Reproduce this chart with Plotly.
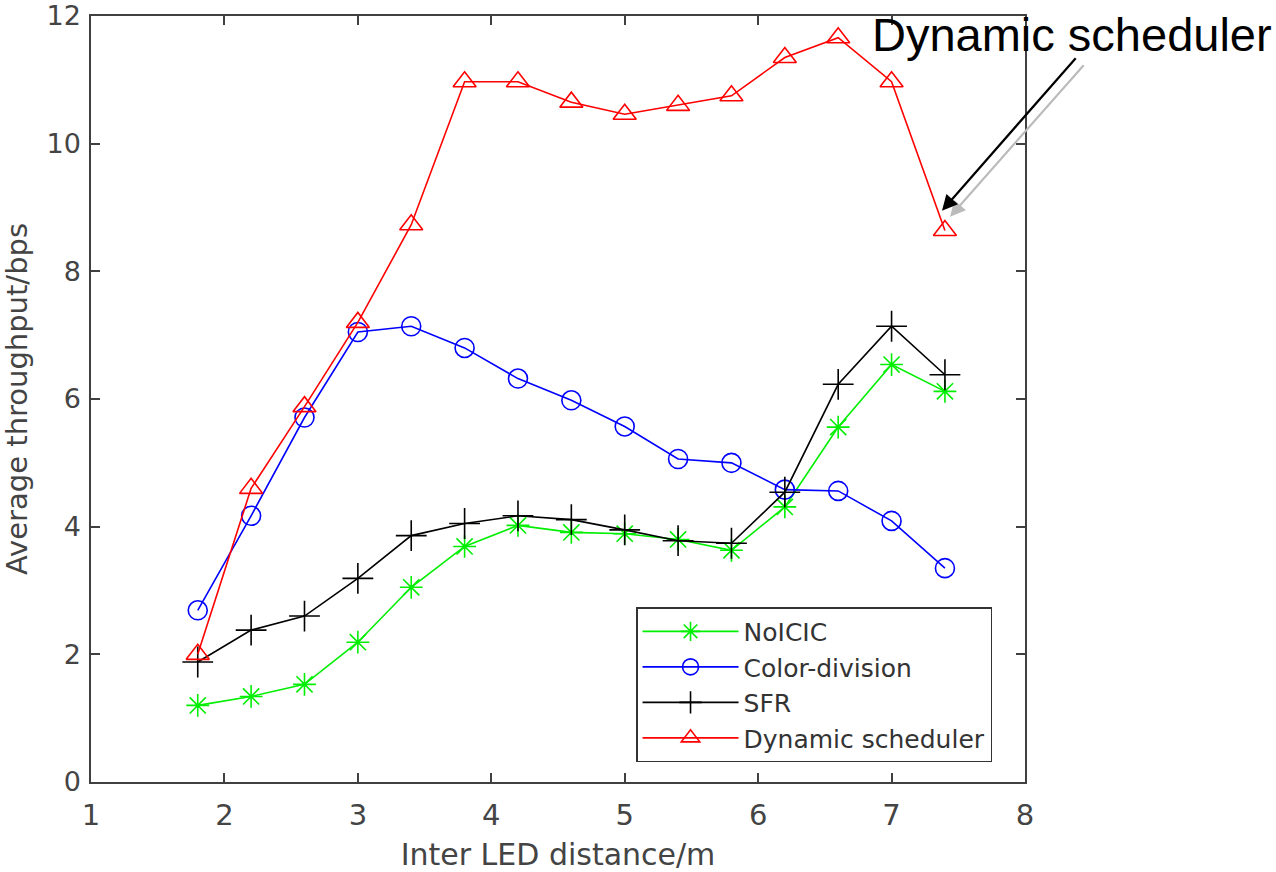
import plotly.graph_objects as go

distance = [1.8, 2.2, 2.6, 3.0, 3.4, 3.8, 4.2, 4.6, 5.0, 5.4, 5.8, 6.2, 6.6, 7.0, 7.4]
noicic = [1.20, 1.34, 1.53, 2.19, 3.05, 3.69, 4.02, 3.91, 3.89, 3.80, 3.63, 4.31, 5.56, 6.54, 6.12]
color_division = [2.69, 4.17, 5.71, 7.05, 7.14, 6.80, 6.32, 5.98, 5.57, 5.06, 5.00, 4.58, 4.56, 4.09, 3.35]
sfr = [1.88, 2.38, 2.60, 3.19, 3.86, 4.05, 4.17, 4.11, 3.95, 3.78, 3.74, 4.54, 6.23, 7.14, 6.38]
dynamic = [2.00, 4.60, 5.88, 7.20, 8.73, 10.97, 10.97, 10.65, 10.46, 10.60, 10.75, 11.35, 11.66, 10.97, 8.64]

x_ticks = [1, 2, 3, 4, 5, 6, 7, 8]
y_ticks = [0, 2, 4, 6, 8, 10, 12]

series = [
    ("NoICIC", noicic, "#00ee00", "asterisk-open", 19),
    ("Color-division", color_division, "#0000ff", "circle-open", 19),
    ("SFR", sfr, "#000000", "cross-thin-open", 22),
    ("Dynamic scheduler", dynamic, "#ff0000", "triangle-up-open", 20),
]

fig = go.Figure()
for name, vals, col, sym, sz in series:
    fig.add_trace(go.Scatter(
        x=distance, y=vals, name=name, mode="lines+markers",
        line=dict(color=col, width=1.6),
        marker=dict(symbol=sym, size=sz, color=col, line=dict(color=col, width=1.6)),
    ))

axis_font = dict(family="DejaVu Sans, sans-serif", size=29, color="#444444")
ytick_font = dict(family="DejaVu Sans, sans-serif", size=27, color="#444444")
title_font = dict(family="DejaVu Sans, sans-serif", size=30, color="#444444")

fig.update_layout(
    width=1276, height=872,
    margin=dict(l=91, r=251, t=16, b=90, autoexpand=False),
    paper_bgcolor="white", plot_bgcolor="white",
    font=axis_font,
    showlegend=True,
    legend=dict(
        x=0.9647, y=0.026, xanchor="right", yanchor="bottom",
        bgcolor="white", bordercolor="#333333", borderwidth=1.5,
        font=dict(family="DejaVu Sans, sans-serif", size=25, color="#333333"),
        itemwidth=96, tracegroupgap=0,
    ),
    xaxis=dict(
        range=[1, 8], tickvals=x_ticks, ticktext=[str(v) for v in x_ticks],
        showgrid=False, zeroline=False, showline=True, linecolor="#404040", linewidth=1.5,
        mirror="ticks", ticks="inside", ticklen=9, tickwidth=1.5, tickcolor="#404040",
        title=dict(text="Inter LED distance/m", standoff=16, font=title_font),
        tickfont=axis_font, automargin=False, ticklabeloverflow="allow",
        ticklabelstandoff=6,
    ),
    yaxis=dict(
        range=[0, 12], tickvals=y_ticks, ticktext=[str(v) for v in y_ticks],
        showgrid=False, zeroline=False, showline=True, linecolor="#404040", linewidth=1.5,
        mirror="ticks", ticks="inside", ticklen=9, tickwidth=1.5, tickcolor="#404040",
        title=dict(text="Average throughput/bps", standoff=10, font=axis_font),
        tickfont=ytick_font, automargin=False, ticklabeloverflow="allow",
        ticklabelstandoff=3,
    ),
)

fig.add_annotation(
    x=7.438, y=8.856, xref="x", yref="y", ax=135, ay=-153, axref="pixel", ayref="pixel",
    text="", showarrow=True, arrowhead=2, arrowsize=1.4, arrowwidth=2.2, arrowcolor="#bbbbbb",
)
fig.add_annotation(
    x=7.378, y=8.95, xref="x", yref="y", ax=135, ay=-154, axref="pixel", ayref="pixel",
    text="", showarrow=True, arrowhead=2, arrowsize=1.4, arrowwidth=2.2, arrowcolor="#000000",
)
fig.add_annotation(
    x=0.834, y=0.9755, xref="paper", yref="paper", xanchor="left", yanchor="middle",
    text="Dynamic scheduler", showarrow=False,
    font=dict(family="Liberation Sans, Arial, sans-serif", size=47, color="#000000"),
)

fig.write_html("out.html", config={"displayModeBar": False},
               post_script="document.body.style.margin='0';")
